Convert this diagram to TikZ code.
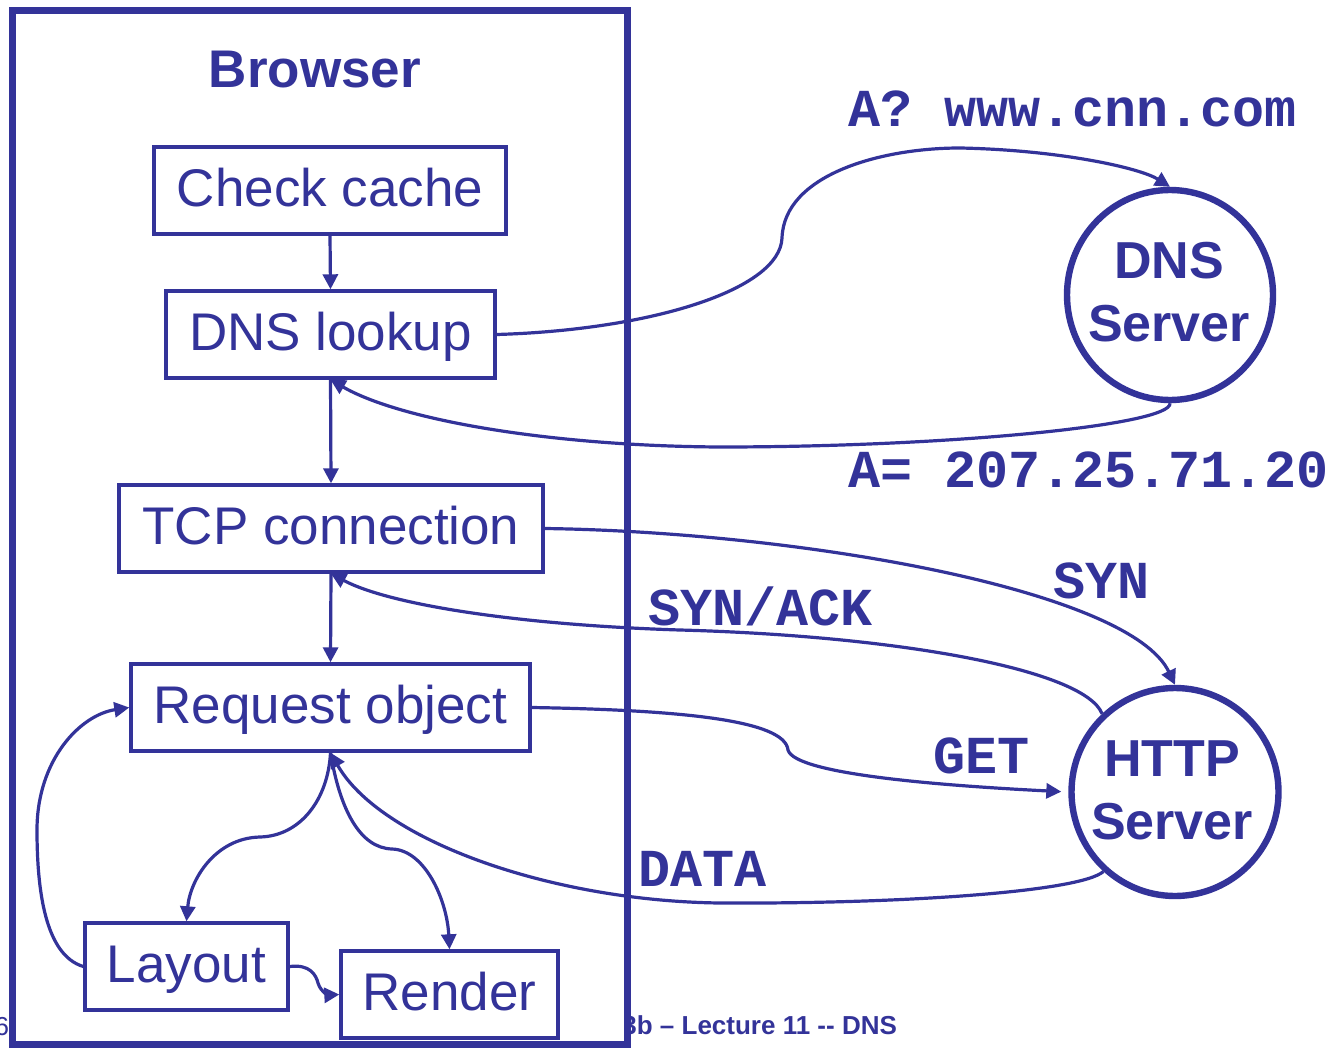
\documentclass[tikz,border=0pt]{standalone}
\usepackage{fontspec}
\setmainfont{Liberation Sans}
\newfontfamily\courfont{Liberation Mono}
\usetikzlibrary{arrows.meta,shapes.geometric,calc}
\definecolor{navy}{RGB}{51,51,153}
\begin{document}
\begin{tikzpicture}[x=0.5pt,y=-0.5pt,
  every node/.style={text=navy},
  stepbox/.style={draw=navy,line width=1.7pt,inner sep=0pt,minimum height=43.5pt,
    font=\fontsize{26.5}{30}\selectfont,text height=19pt,text depth=3pt},
  server/.style={ellipse,draw=navy,line width=3.2pt,inner sep=0pt,minimum width=103pt,
    minimum height=105pt},
  servertext/.style={align=center,inner sep=0pt,font=\bfseries\fontsize{26}{31.5}\selectfont},
  msg/.style={font=\courfont\bfseries\fontsize{26.7}{30}\selectfont,anchor=base west,inner sep=0pt},
  foot/.style={font=\fontsize{13}{15}\selectfont,inner sep=0pt},
  conn/.style={draw=navy,line width=1.6pt,-{Triangle[length=7.5pt,width=7.5pt]}},
]
\useasboundingbox[fill=white] (0,0) rectangle (1332,1048);

% footer fragments
\node[foot,anchor=base east] (pagenum) at (9.5,1035) {6};
\node[foot,anchor=base west,font=\bfseries\fontsize{13}{15}\selectfont] (footer) at (622,1034) {3b – Lecture 11 -{}- DNS};

% browser frame
\node[draw=navy,fill=white,line width=3.5pt,minimum width=307.75pt,minimum height=517pt,inner sep=0pt] (browser) at (320,527.5) {};
\node[font=\bfseries\fontsize{26.5}{30}\selectfont,anchor=base,inner sep=0pt] (title) at (315,88) {Browser};

% steps
\node[stepbox,minimum width=176pt] (cache) at (330,190.5) {Check cache};
\node[stepbox,minimum width=164.5pt] (lookup) at (330.5,334.5) {DNS lookup};
\node[stepbox,minimum width=212pt] (tcp) at (331,528.5) {TCP connection};
\node[stepbox,minimum width=199.5pt] (req) at (330.5,707.5) {Request object};
\node[stepbox,minimum width=101.5pt] (layout) at (186.5,966.5) {Layout};
\node[stepbox,minimum width=108.5pt] (render) at (449.5,994.5) {Render};

% servers
\node[server] (dns) at (1170,295) {};
\node[servertext] (dnstext) at (1169,292) {DNS\\Server};
\node[server,minimum width=103.5pt,minimum height=104pt] (http) at (1175,792) {};
\node[servertext] (httptext) at (1172,790) {HTTP\\Server};

% messages
\node[msg] (q) at (848,127) {A? www.cnn.com};
\node[msg] (ans) at (848,487) {A= 207.25.71.20};
\node[msg] (syn) at (1053,598) {SYN};
\node[msg] (synack) at (648,625) {SYN/ACK};
\node[msg] (get) at (933,773) {GET};
\node[msg] (data) at (638,886) {DATA};

% straight flow
\draw[conn] (cache.south) -- (lookup.north);
\draw[conn] (lookup.south) -- (tcp.north);
\draw[conn] (tcp.south) -- (req.north);

% DNS query and reply
\draw[conn] (lookup.east) .. controls (650,330) and (780,290) .. (782,238)
  .. controls (784,175) and (880,148) .. (960,148)
  .. controls (1060,150) and (1140,168) .. (dns.north);
\draw[conn] (dns.south) .. controls (1172,425) and (950,447) .. (720,447)
  .. controls (550,446) and (400,420) .. (lookup.south);

% TCP handshake
\draw[conn] (tcp.east) .. controls (800,532) and (1130,590) .. (http.north);
\draw[conn] (http.133) .. controls (1085,670) and (900,636) .. (680,630)
  .. controls (520,625) and (390,605) .. (tcp.south);

% GET and DATA
\draw[conn,shorten >=3.5pt] (req.east) .. controls (680,710) and (785,720) .. (788,750)
  .. controls (795,775) and (950,786) .. (http.west);
\draw[conn] (http.228) .. controls (1080,892) and (900,904) .. (720,903)
  .. controls (550,901) and (380,840) .. (req.south);

% local processing
\draw[conn] (req.south) .. controls (328,800) and (300,836) .. (260,837)
  .. controls (215,838) and (190,880) .. (layout.north);
\draw[conn] (req.south) .. controls (340,810) and (360,848) .. (392,849)
  .. controls (425,850) and (447,900) .. (render.north);
\draw[conn] (layout.west) .. controls (45,955) and (37,890) .. (37,830)
  .. controls (37,760) and (80,715) .. (req.west);
\draw[conn] (layout.east) .. controls (310,964) and (316,975) .. (318,983)
  .. controls (321,993) and (330,995) .. (render.west);
\end{tikzpicture}
\end{document}
